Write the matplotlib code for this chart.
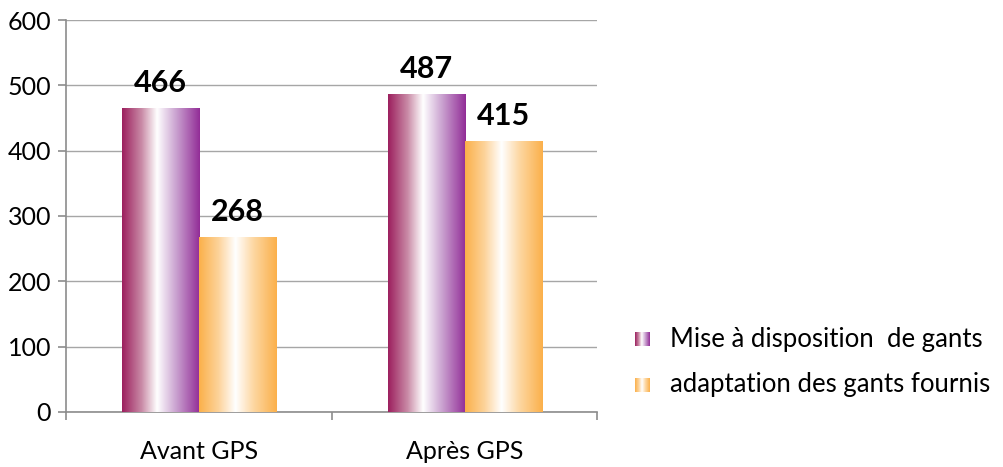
import numpy as np
import matplotlib.pyplot as plt
from matplotlib.colors import LinearSegmentedColormap

categories = ["Avant GPS", "Après GPS"]
series_names = ["Mise à disposition  de gants", "adaptation des gants fournis"]
mise = [466, 487]
adaptation = [268, 415]

plt.rcParams['font.family'] = ['Lato', 'DejaVu Sans']

purple_cmap = LinearSegmentedColormap.from_list(
    "purple", [(0.0, "#9c1f5e"), (0.25, "#c98aa6"), (0.45, "#ffffff"),
               (0.7, "#c9a0cf"), (1.0, "#922d97")])
orange_cmap = LinearSegmentedColormap.from_list(
    "orange", [(0.0, "#fbb04a"), (0.25, "#fdd39a"), (0.47, "#ffffff"),
               (0.7, "#fdd7a2"), (1.0, "#fbb04a")])

fig = plt.figure(figsize=(10.04, 4.67), dpi=100)
ax = fig.add_axes([0.066, 0.118, 0.529, 0.839])

x = np.arange(len(categories))
w = 0.29
grad = np.linspace(0, 1, 256).reshape(1, -1)


def gradient_bars(xs, vals, cmap):
    bars = ax.bar(xs, vals, w, color="none", edgecolor="none", zorder=3)
    for b in bars:
        x0, y0 = b.get_x(), b.get_y()
        im = ax.imshow(grad, cmap=cmap, aspect="auto", zorder=3,
                       extent=[x0, x0 + b.get_width(), y0, y0 + b.get_height()])
        im.set_clip_path(b)
    return bars


b1 = gradient_bars(x - w / 2, mise, purple_cmap)
b2 = gradient_bars(x + w / 2, adaptation, orange_cmap)

for bars, vals in [(b1, mise), (b2, adaptation)]:
    for b, v in zip(bars, vals):
        ax.text(b.get_x() + b.get_width() / 2, v + 16, str(v),
                ha="center", va="bottom", fontsize=22, fontweight="bold")

ax.set_xlim(-0.5, 1.5)
ax.set_ylim(0, 600)
ax.set_yticks(range(0, 601, 100))
ax.set_xticks(x)
ax.set_xticklabels(categories, fontsize=18)
ax.set_xticks([-0.5, 0.5, 1.5], minor=True)
ax.tick_params(axis="x", which="major", length=0, pad=20)
ax.tick_params(axis="x", which="minor", length=6, color="#8c8c8c", width=1.2)
ax.tick_params(axis="y", length=6, color="#8c8c8c", width=1.2, labelsize=18, pad=5)
ax.grid(axis="y", color="#a6a6a6", linewidth=1, zorder=0)
ax.set_axisbelow(True)
for s in ["top", "right"]:
    ax.spines[s].set_visible(False)
for s in ["left", "bottom"]:
    ax.spines[s].set_color("#8c8c8c")
    ax.spines[s].set_linewidth(1.2)

# legend with gradient swatches
for i, (name, cmap) in enumerate(zip(series_names, [purple_cmap, orange_cmap])):
    yy = 0.274 - i * 0.098
    lax = fig.add_axes([0.632, yy - 0.015, 0.0145, 0.030])
    lax.imshow(grad, cmap=cmap, aspect="auto")
    lax.axis("off")
    fig.text(0.667, yy, name, fontsize=18.5, va="center", ha="left")

fig.savefig("out.png", dpi=100)
